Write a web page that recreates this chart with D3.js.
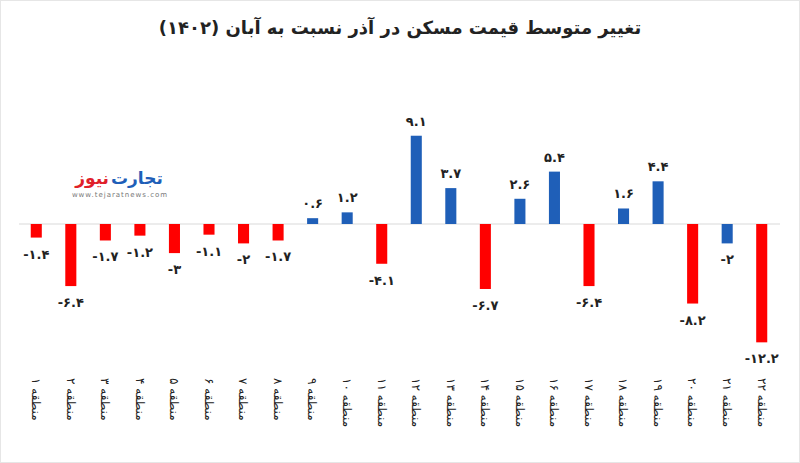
<!DOCTYPE html>
<html><head><meta charset="utf-8">
<script src="https://cdn.jsdelivr.net/npm/d3@7"></script>
<style>body{margin:0;background:#fff}svg{display:block}</style>
</head><body>
<svg id="c" width="800" height="463"></svg>
<script>
const categories = ["منطقه ۱","منطقه ۲","منطقه ۳","منطقه ۴","منطقه ۵","منطقه ۶","منطقه ۷","منطقه ۸","منطقه ۹","منطقه ۱۰","منطقه ۱۱","منطقه ۱۲","منطقه ۱۳","منطقه ۱۴","منطقه ۱۵","منطقه ۱۶","منطقه ۱۷","منطقه ۱۸","منطقه ۱۹","منطقه ۲۰","منطقه ۲۱","منطقه ۲۲"];
const values = [-1.4,-6.4,-1.7,-1.2,-3,-1.1,-2,-1.7,0.6,1.2,-4.1,9.1,3.7,-6.7,2.6,5.4,-6.4,1.6,4.4,-8.2,-2,-12.2];
const valueLabels = ["-۱.۴","-۶.۴","-۱.۷","-۱.۲","-۳","-۱.۱","-۲","-۱.۷","۰.۶","۱.۲","-۴.۱","۹.۱","۳.۷","-۶.۷","۲.۶","۵.۴","-۶.۴","۱.۶","۴.۴","-۸.۲","-۲","-۱۲.۲"];
// region 21 is drawn blue in the source chart
const barColorKey = ["n","n","n","n","n","n","n","n","p","p","n","p","p","n","p","p","n","p","p","n","p","n"];
const title = "تغییر متوسط قیمت مسکن در آذر نسبت به آبان (۱۴۰۲)";

const svg = d3.select("#c");
const font = "'DejaVu Sans', sans-serif";
svg.append("rect").attr("x",0.5).attr("y",0.5).attr("width",799).attr("height",462).attr("fill","#fff").attr("stroke","#e6e6e6");

const x = d3.scaleBand().domain(categories).range([19,779]).paddingInner(0.68).paddingOuter(0.34);
const y = d3.scaleLinear().domain([-13,10]).range([350.1,127]);
const color = {n:"#ff0000", p:"#1f5fb8"};

svg.append("text").attr("x",400).attr("y",34).attr("text-anchor","middle")
  .attr("font-family",font).attr("font-weight","bold").attr("font-size",18).attr("fill","#222")
  .attr("direction","rtl").text(title);

// logo
svg.append("text").attr("x",111).attr("y",184).attr("text-anchor","start").attr("font-family",font).attr("font-weight","bold").attr("font-size",17)
  .attr("fill","#1f5fb8").text("تجارت");
svg.append("text").attr("x",109).attr("y",184).attr("text-anchor","end").attr("font-family",font).attr("font-weight","bold").attr("font-size",17)
  .attr("fill","#e0202a").text("نیوز");
svg.append("text").attr("x",120).attr("y",197).attr("text-anchor","middle").attr("font-family",font).attr("font-size",7)
  .attr("letter-spacing",1).attr("fill","#777").text("www.tejaratnews.com");

const data = categories.map((c,i)=>({c,v:values[i],l:valueLabels[i],k:barColorKey[i]}));

svg.append("line").attr("x1",19).attr("x2",780).attr("y1",y(0)).attr("y2",y(0)).attr("stroke","#d9d9d9").attr("stroke-width",1);

svg.selectAll("rect.bar").data(data).join("rect").attr("class","bar")
  .attr("x",d=>x(d.c)).attr("width",x.bandwidth())
  .attr("y",d=>Math.min(y(d.v),y(0))).attr("height",d=>Math.abs(y(d.v)-y(0)))
  .attr("fill",d=>color[d.k]);

svg.selectAll("text.val").data(data).join("text").attr("class","val")
  .attr("x",d=>x(d.c)+x.bandwidth()/2)
  .attr("y",d=>d.v>=0 ? y(d.v)-10 : y(d.v)+21)
  .attr("text-anchor","middle").attr("font-family",font).attr("font-size",13).attr("font-weight","bold").attr("fill","#222")
  .text(d=>d.l);

svg.selectAll("text.cat").data(data).join("text").attr("class","cat")
  .attr("transform",d=>`translate(${x(d.c)+x.bandwidth()/2},378) rotate(90)`)
  .attr("dy","0.35em").attr("text-anchor","start").attr("font-family",font).attr("font-size",12).attr("fill","#222")
  .text(d=>d.c);
</script>
</body></html>
